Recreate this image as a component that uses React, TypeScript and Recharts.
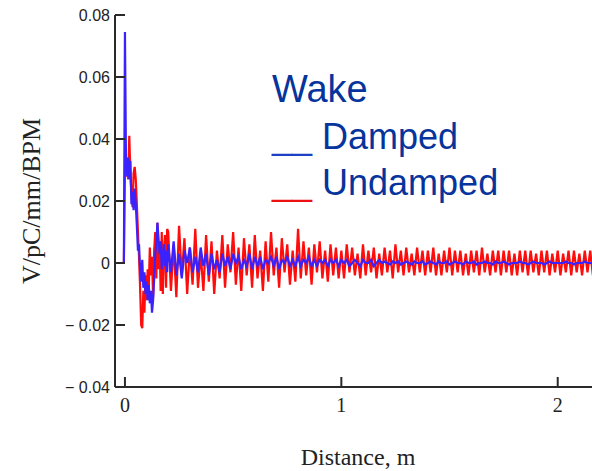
import React from "react";
import {
  LineChart,
  Line,
  XAxis,
  YAxis,
  Legend,
  Label,
} from "recharts";

// 色とフォント
const COLORS = {
  undamped: "#ff0d0d",
  damped: "#3a22ff",
  axis: "#2a2a2a",
  legendText: "#06349c",
  legendBlue: "#1c3fc4",
  legendRed: "#ee1111",
};
const SANS = "'Liberation Sans', Arial, sans-serif";
const SERIF = "'Liberation Serif', 'Times New Roman', serif";

// サンプリング位置 (m)
const HEAD_START = -0.01;
const HEAD_STEP = 0.005;
const TAIL_START = 0.2;
const TAIL_STEP = 0.0125;

// 先頭部分 (-0.01 .. 0.195 m)
const DAMPED_HEAD = [
  0, 0, 0.0745, 0.031, 0.028, 0.034, 0.027, 0.033, 0.019, 0.023,
  0.017, 0.024, 0.019, 0.012, 0.004, 0.006, -0.002, -0.006, 0.001, -0.008,
  -0.003, -0.01, -0.006, -0.012, -0.007, -0.013, -0.009, -0.016, -0.012, -0.005,
  0.003, 0.006, 0.013, 0.008, 0.003, 0.007, -0.002, 0.003, 0.006, -0.001,
  0.004, -0.003,
];
const UNDAMPED_HEAD = [
  0, 0, 0.03, 0.029, 0.031, 0.027, 0.041, 0.029, 0.022, 0.018,
  0.029, 0.031, 0.027, 0.019, 0.01, 0.002, -0.008, -0.02, -0.021, -0.009,
  -0.016, -0.004, -0.012, -0.002, -0.008, 0.005, -0.004, 0.002, -0.011, 0.004,
  0.01, -0.005, 0.013, -0.002, 0.007, -0.009, 0.01, -0.01, 0.004, 0.009,
  -0.008, 0.011,
];

// 後半部分 (0.2 .. 2.2 m)
const DAMPED_TAIL = [
  0.006, -0.003, 0.007, -0.004, 0.003, -0.005, 0.004, 0.0, 0.005, -0.003, 0.002, -0.003, 0.005, -0.001, 0.003, -0.004,
  0.003, -0.002, 0.001, -0.003, 0.003, -0.001, 0.002, -0.002, 0.003, 0.0, 0.002, -0.002, 0.001, -0.001, 0.003, -0.002,
  0.002, -0.001, 0.002, -0.002, 0.001, 0.0, 0.002, -0.001, 0.002, -0.002, 0.001, 0.0, 0.002, -0.001, 0.001, -0.001,
  0.002, -0.001, 0.001, 0.0, 0.002, -0.001, 0.001, -0.001, 0.001, 0.0, 0.001, -0.001, 0.001, 0.0, 0.001, -0.001,
  0.001, 0.0, 0.001, -0.001, 0.0, 0.001, 0.0, -0.001, 0.001, 0.0, 0.0, 0.001, -0.001, 0.0, 0.001, 0.0,
  0.0005, 0, -0.0005, 0.0005, 0, 0.0005, -0.0005, 0, 0.0005, 0, -0.0005, 0.0005, 0, 0, 0.0005, -0.0005,
  0, 0.0005, 0, -0.0005, 0.0005, 0, 0, 0.0005, -0.0005, 0, 0.0005, 0, 0, -0.0005, 0.0005, 0,
  0, 0.0005, -0.0005, 0, 0, 0.0005, 0, 0, -0.0005, 0.0005, 0, 0, 0.0005, 0, -0.0005, 0,
  0, 0, 0.0005, 0, 0, -0.0005, 0, 0.0005, 0, 0, 0, -0.0005, 0, 0.0005, 0, 0,
  0, 0, 0, 0.0005, 0, 0, -0.0005, 0, 0, 0, 0.0005, 0, 0, 0, -0.0005, 0, 0,
];
const UNDAMPED_TAIL = [
  0.01, -0.009, 0.006, -0.011, 0.012, -0.004, 0.008, -0.01, 0.005, -0.007, 0.011, -0.008, 0.003, -0.009, 0.009, -0.006,
  0.007, -0.01, 0.004, -0.005, 0.009, -0.008, 0.006, -0.003, 0.01, -0.007, 0.005, -0.009, 0.008, -0.004, 0.006, -0.008,
  0.009, -0.005, 0.004, -0.009, 0.007, -0.006, 0.01, -0.004, 0.005, -0.008, 0.008, -0.003, 0.006, -0.007, 0.004, -0.006,
  0.011, -0.005, 0.007, -0.004, 0.005, -0.007, 0.006, -0.003, 0.007, -0.005, 0.004, -0.006, 0.006, -0.004, 0.005, -0.005,
  0.004, -0.005, 0.006, -0.003, 0.005, -0.004, 0.003, -0.005, 0.006, -0.004, 0.004, -0.003, 0.005, -0.005, 0.003, -0.004,
  0.005, -0.003, 0.004, -0.005, 0.006, -0.003, 0.004, -0.004, 0.005, -0.003, 0.003, -0.004, 0.005, -0.003, 0.004, -0.004,
  0.004, -0.003, 0.005, -0.004, 0.003, -0.004, 0.004, -0.003, 0.005, -0.004, 0.004, -0.003, 0.004, -0.004, 0.003, -0.004,
  0.004, -0.003, 0.004, -0.004, 0.005, -0.003, 0.003, -0.004, 0.004, -0.003, 0.004, -0.004, 0.004, -0.003, 0.004, -0.004,
  0.003, -0.004, 0.004, -0.003, 0.004, -0.004, 0.004, -0.003, 0.003, -0.004, 0.004, -0.003, 0.004, -0.004, 0.003, -0.003,
  0.004, -0.004, 0.003, -0.003, 0.004, -0.004, 0.004, -0.003, 0.003, -0.004, 0.004, -0.003, 0.004, -0.004, 0.003, -0.003, 0.004,
];

const X_TICKS = [0, 1, 2];
const Y_TICKS = [-0.04, -0.02, 0, 0.02, 0.04, 0.06, 0.08];
const X_DOMAIN = [-0.046, 2.2];
const Y_DOMAIN = [-0.04, 0.08];

const data = [
  ...UNDAMPED_HEAD.map((u, i) => ({
    d: HEAD_START + i * HEAD_STEP,
    undamped: u,
    damped: DAMPED_HEAD[i],
  })),
  ...UNDAMPED_TAIL.map((u, i) => ({
    d: TAIL_START + i * TAIL_STEP,
    undamped: u,
    damped: DAMPED_TAIL[i],
  })),
];

// プロット枠の位置 (margin + 軸幅から決まる)
const CHART_W = 610;
const CHART_H = 471;
const MARGIN = { top: 15, right: 9, bottom: 0, left: 0 };
const Y_AXIS_W = 115;
const X_AXIS_H = 84;
const PLOT_LEFT = MARGIN.left + Y_AXIS_W;
const PLOT_RIGHT = CHART_W - MARGIN.right;
const PLOT_TOP = MARGIN.top;
const PLOT_BOTTOM = CHART_H - MARGIN.bottom - X_AXIS_H;

const TICK_LEN = 10;
const AXIS_W = 2;

const fmtY = (v: number) =>
  v === 0 ? "0" : v < 0 ? `\u2212 ${Math.abs(v).toFixed(2)}` : v.toFixed(2);

// 内向きの目盛り
const LeftTick = ({ y, payload }: any) => (
  <g>
    <line x1={PLOT_LEFT} x2={PLOT_LEFT + TICK_LEN} y1={y} y2={y} stroke={COLORS.axis} strokeWidth={AXIS_W} />
    <text x={PLOT_LEFT - 5} y={y} dy={6} textAnchor="end" fontFamily={SANS} fontSize={16} fill="#222">
      {fmtY(payload.value)}
    </text>
  </g>
);
const RightTick = ({ y }: any) => (
  <line x1={PLOT_RIGHT} x2={PLOT_RIGHT - TICK_LEN} y1={y} y2={y} stroke={COLORS.axis} strokeWidth={AXIS_W} />
);
const BottomTick = ({ x, payload }: any) => (
  <g>
    <line x1={x} x2={x} y1={PLOT_BOTTOM} y2={PLOT_BOTTOM - TICK_LEN} stroke={COLORS.axis} strokeWidth={AXIS_W} />
    <text x={x} y={PLOT_BOTTOM + 25} textAnchor="middle" fontFamily={SERIF} fontSize={20} fill="#222">
      {payload.value}
    </text>
  </g>
);
const TopTick = ({ x }: any) => (
  <line x1={x} x2={x} y1={PLOT_TOP} y2={PLOT_TOP + TICK_LEN} stroke={COLORS.axis} strokeWidth={AXIS_W} />
);

const WakeLegend = () => (
  <svg width={260} height={150}>
    <g fontFamily={SANS} fill={COLORS.legendText}>
      <text x={12} y={42} fontSize={38}>Wake</text>
      <text x={12} y={89} fontSize={36}>
        <tspan fill={COLORS.legendBlue}>__</tspan> Damped
      </text>
      <text x={12} y={135} fontSize={36}>
        <tspan fill={COLORS.legendRed}>__</tspan> Undamped
      </text>
    </g>
  </svg>
);

export default function App() {
  const axisLine = { stroke: COLORS.axis, strokeWidth: AXIS_W };
  return (
    <div style={{ position: "absolute", left: 0, top: 0, width: 592, height: 471, overflow: "hidden", background: "#fff" }}>
      <LineChart width={CHART_W} height={CHART_H} data={data} margin={MARGIN}>
        <XAxis
          dataKey="d"
          type="number"
          domain={X_DOMAIN}
          ticks={X_TICKS}
          allowDataOverflow
          height={X_AXIS_H}
          axisLine={axisLine}
          tickLine={false}
          tick={<BottomTick />}
        >
          <Label
            content={() => (
              <text
                x={(PLOT_LEFT + PLOT_RIGHT) / 2}
                y={PLOT_BOTTOM + 78}
                textAnchor="middle"
                fontFamily={SERIF}
                fontSize={24}
                fill="#222"
              >
                Distance, m
              </text>
            )}
          />
        </XAxis>
        <XAxis
          xAxisId="top"
          orientation="top"
          dataKey="d"
          type="number"
          domain={X_DOMAIN}
          ticks={X_TICKS}
          allowDataOverflow
          height={0}
          axisLine={axisLine}
          tickLine={false}
          tick={<TopTick />}
        />
        <YAxis
          type="number"
          domain={Y_DOMAIN}
          ticks={Y_TICKS}
          allowDataOverflow
          width={Y_AXIS_W}
          axisLine={axisLine}
          tickLine={false}
          tick={<LeftTick />}
        >
          <Label
            content={() => (
              <text
                transform={`translate(40, ${(PLOT_TOP + PLOT_BOTTOM) / 2}) rotate(-90)`}
                textAnchor="middle"
                fontFamily={SERIF}
                fontSize={26}
                fill="#222"
              >
                V/pC/mm/BPM
              </text>
            )}
          />
        </YAxis>
        <YAxis
          yAxisId="right"
          orientation="right"
          type="number"
          domain={Y_DOMAIN}
          ticks={Y_TICKS}
          allowDataOverflow
          width={0}
          axisLine={axisLine}
          tickLine={false}
          tick={<RightTick />}
        />
        <Legend
          layout="horizontal"
          verticalAlign="middle"
          align="center"
          content={<WakeLegend />}
          wrapperStyle={{ left: 260, top: 60, width: 260, height: 150 }}
        />
        <Line
          type="linear"
          dataKey="undamped"
          stroke={COLORS.undamped}
          strokeWidth={2.2}
          dot={false}
          isAnimationActive={false}
        />
        <Line
          type="linear"
          dataKey="damped"
          stroke={COLORS.damped}
          strokeWidth={2.2}
          dot={false}
          isAnimationActive={false}
        />
      </LineChart>
    </div>
  );
}
